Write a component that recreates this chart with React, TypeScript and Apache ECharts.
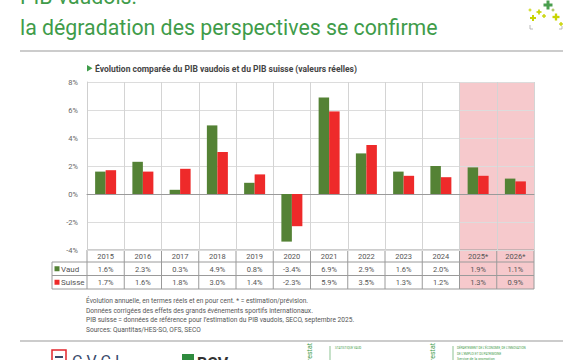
import React, { useEffect, useRef } from 'react';
import * as echarts from 'echarts';

const years = ['2015', '2016', '2017', '2018', '2019', '2020', '2021', '2022', '2023', '2024', '2025*', '2026*'];
const vaud = [1.6, 2.3, 0.3, 4.9, 0.8, -3.4, 6.9, 2.9, 1.6, 2.0, 1.9, 1.1];
const suisse = [1.7, 1.6, 1.8, 3.0, 1.4, -2.3, 5.9, 3.5, 1.3, 1.2, 1.3, 0.9];
const seriesNames = ['Vaud', 'Suisse'];
const yMin = -4;
const yMax = 8;
const yStep = 2;
const forecastFrom = 10;
const footnotes = [
  'Évolution annuelle, en termes réels et en pour cent. * = estimation/prévision.',
  'Données corrigées des effets des grands événements sportifs internationaux.',
  'PIB suisse = données de référence pour l’estimation du PIB vaudois, SECO, septembre 2025.',
  'Sources: Quantitas/HES-SO, OFS, SECO',
];
const titleLines = ['PIB vaudois:', 'la dégradation des perspectives se confirme'];
const subtitle = 'Évolution comparée du PIB vaudois et du PIB suisse (valeurs réelles)';

const GREEN = '#548235';
const RED = '#ee2a2a';
const TITLE_GREEN = '#3f9c4a';
const FONT = 'Roboto, "Noto Sans", sans-serif';

const GL = 87;
const GR = 534;
const GT = 82;
const GB = 250;
const ROW_H = [12, 13.5, 13.5];
const TABLE_LEFT = 52;

export default function App() {
  const ref = useRef<HTMLDivElement>(null);
  useEffect(() => {
    if (!ref.current) return;
    const chart = echarts.init(ref.current, null, { renderer: 'svg' });
    const n = years.length;
    const colW = (GR - GL) / n;
    const rowTops = [GB, GB + ROW_H[0], GB + ROW_H[0] + ROW_H[1], GB + ROW_H[0] + ROW_H[1] + ROW_H[2]];
    const tableBottom = rowTops[3];
    const g: any[] = [];
    const border = { stroke: '#9a9a9a', lineWidth: 1 };

    // forecast shading
    g.push({
      type: 'rect', z: -5,
      shape: { x: GL + colW * forecastFrom, y: GT, width: colW * (n - forecastFrom), height: tableBottom - GT },
      style: { fill: '#f6c9cc' },
    });

    // table lines
    g.push({ type: 'line', shape: { x1: GL, y1: rowTops[0], x2: GR, y2: rowTops[0] }, style: border });
    for (let r = 1; r < 4; r++) {
      g.push({ type: 'line', shape: { x1: TABLE_LEFT, y1: rowTops[r], x2: GR, y2: rowTops[r] }, style: border });
    }
    g.push({ type: 'line', shape: { x1: TABLE_LEFT, y1: rowTops[1], x2: TABLE_LEFT, y2: tableBottom }, style: border });
    for (let i = 0; i <= n; i++) {
      const x = GL + colW * i;
      g.push({ type: 'line', shape: { x1: x, y1: rowTops[0], x2: x, y2: tableBottom }, style: border });
    }
    const rows = [years, vaud.map((v) => v.toFixed(1) + '%'), suisse.map((v) => v.toFixed(1) + '%')];
    rows.forEach((row, r) => {
      const cy = (rowTops[r] + rowTops[r + 1]) / 2 + 0.5;
      row.forEach((t, i) => {
        g.push({
          type: 'text', x: GL + colW * (i + 0.5), y: cy,
          style: { text: String(t), fill: '#555', font: `7.5px ${FONT}`, align: 'center', verticalAlign: 'middle' },
        });
      });
    });
    [GREEN, RED].forEach((c, k) => {
      const cy = (rowTops[k + 1] + rowTops[k + 2]) / 2;
      g.push({ type: 'rect', shape: { x: 54.5, y: cy - 2.5, width: 5, height: 5 }, style: { fill: c } });
      g.push({
        type: 'text', x: 61, y: cy + 0.5,
        style: { text: seriesNames[k], fill: '#555', font: `8px ${FONT}`, align: 'left', verticalAlign: 'middle' },
      });
    });

    // title
    g.push({ type: 'text', x: 20, y: -4, style: { text: titleLines[0], fill: TITLE_GREEN, font: `21.3px ${FONT}`, verticalAlign: 'middle' } });
    g.push({ type: 'text', x: 20, y: 27, style: { text: titleLines[1], fill: TITLE_GREEN, font: `21.3px ${FONT}`, verticalAlign: 'middle' } });
    g.push({ type: 'line', shape: { x1: 20, y1: 51, x2: 563, y2: 51 }, style: { stroke: '#9a9a9a', lineWidth: 1.2 } });

    // logo top right (crosses)
    const crosses = [
      [548, 5, 9, '#4a9e4f'], [539, 12, 5, '#c8d400'], [533, 18, 6, '#c8d400'], [544, 16, 4, '#c8d400'],
      [556, 17, 7, '#c8d400'], [561, 24, 4, '#c8d400'], [530, 10, 3, '#c8d400'], [553, 10, 3, '#9ab83a'],
    ];
    crosses.forEach(([x, y, s, c]: any) => {
      const t = Math.max(1, s / 3);
      g.push({ type: 'rect', shape: { x: x - s / 2, y: y - t / 2, width: s, height: t }, style: { fill: c } });
      g.push({ type: 'rect', shape: { x: x - t / 2, y: y - s / 2, width: t, height: s }, style: { fill: c } });
    });
    g.push({ type: 'polyline', shape: { points: [[530, 25], [530, 29], [533, 29]] }, style: { stroke: '#aaa', lineWidth: 0.8, fill: 'none' } });
    g.push({ type: 'polyline', shape: { points: [[559, 29], [562, 29], [562, 26]] }, style: { stroke: '#aaa', lineWidth: 0.8, fill: 'none' } });

    // subtitle
    g.push({ type: 'polygon', shape: { points: [[87, 65], [87, 71.5], [92.5, 68.25]] }, style: { fill: '#3f9c4a' } });
    g.push({ type: 'text', x: 95, y: 68.5, style: { text: subtitle, fill: '#444', font: `bold 8.5px ${FONT}`, verticalAlign: 'middle' } });

    // footnotes
    footnotes.forEach((t, i) => {
      g.push({ type: 'text', x: 86, y: 301 + i * 9.6, style: { text: t, fill: '#555', font: `6.6px ${FONT}`, verticalAlign: 'middle' } });
    });

    // footer
    g.push({ type: 'line', shape: { x1: 20, y1: 341, x2: 563, y2: 341 }, style: { stroke: '#9a9a9a', lineWidth: 1.2 } });
    g.push({ type: 'rect', shape: { x: 52, y: 350, width: 14, height: 14 }, style: { fill: 'none', stroke: '#e3262d', lineWidth: 1.5 } });
    g.push({ type: 'rect', shape: { x: 55, y: 356, width: 8, height: 2 }, style: { fill: '#3a4a6b' } });
    g.push({ type: 'text', x: 72, y: 361, style: { text: 'C V C I', fill: '#3a4a6b', font: `16px ${FONT}`, verticalAlign: 'middle' } });
    g.push({ type: 'rect', shape: { x: 182, y: 354, width: 12, height: 10 }, style: { fill: '#2e8b3e' } });
    g.push({ type: 'text', x: 197, y: 363, style: { text: 'BCV', fill: '#333', font: `bold 16px ${FONT}`, verticalAlign: 'middle' } });
    [[310, 330, 335, ['STATISTIQUE VAUD']], [433, 453, 457, ['DÉPARTEMENT DE L’ÉCONOMIE, DE L’INNOVATION', 'DE L’EMPLOI ET DU PATRIMOINE', 'Service de la promotion']]].forEach(([rx, lx, tx, lines]: any) => {
      g.push({ type: 'text', x: rx, y: 354, rotation: Math.PI / 2, style: { text: 'prestat', fill: '#3f9c4a', font: `7px ${FONT}`, align: 'center', verticalAlign: 'middle' } });
      g.push({ type: 'line', shape: { x1: lx, y1: 346, x2: lx, y2: 360 }, style: { stroke: '#3f9c4a', lineWidth: 0.6 } });
      lines.forEach((t: string, k: number) => {
        g.push({ type: 'text', x: tx, y: 348 + k * 5.5, style: { text: t, fill: '#3f9c4a', font: `${k === 2 ? 3.6 : 3}px ${FONT}`, verticalAlign: 'middle' } });
      });
    });

    chart.setOption({
      animation: false,
      backgroundColor: '#fff',
      grid: { left: GL, top: GT, width: GR - GL, height: GB - GT, containLabel: false },
      xAxis: {
        type: 'category',
        data: years,
        axisLabel: { show: false },
        axisTick: { show: false },
        axisLine: { onZero: true, lineStyle: { color: '#9a9a9a', width: 1 } },
        splitLine: { show: true, interval: 0, lineStyle: { color: '#d4d4d4', width: 1 } },
      },
      yAxis: {
        type: 'value',
        min: yMin,
        max: yMax,
        interval: yStep,
        axisLabel: { formatter: '{value}%', fontSize: 7.5, color: '#666', margin: 9, fontFamily: FONT },
        axisLine: { show: true, lineStyle: { color: '#cfcfcf' } },
        axisTick: { show: false },
        splitLine: { lineStyle: { color: '#dcdcdc', width: 1 } },
      },
      series: [
        { name: seriesNames[0], type: 'bar', data: vaud, barWidth: 10.5, barGap: '0%', itemStyle: { color: GREEN } },
        { name: seriesNames[1], type: 'bar', data: suisse, barWidth: 10.5, barGap: '0%', itemStyle: { color: RED } },
      ],
      graphic: g,
    });
    return () => chart.dispose();
  }, []);
  return <div ref={ref} style={{ position: 'fixed', left: 0, top: 0, width: 580, height: 360 }} />;
}
